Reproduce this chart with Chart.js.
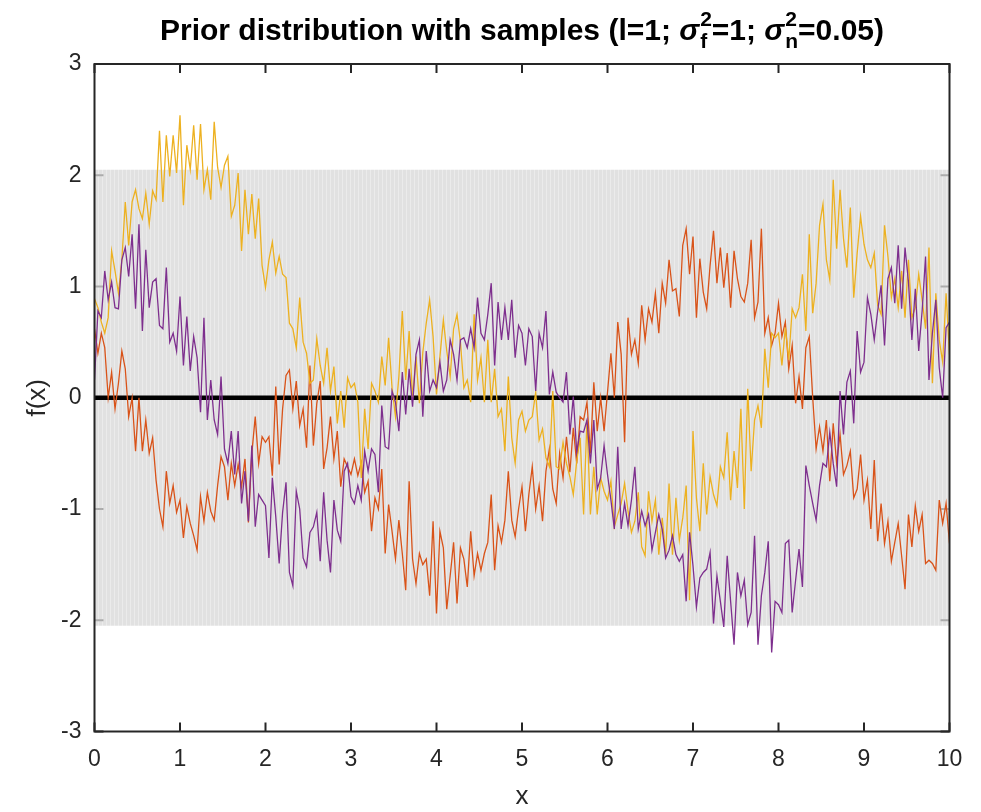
<!DOCTYPE html>
<html>
<head>
<meta charset="utf-8">
<script src="https://cdn.jsdelivr.net/npm/chart.js@4.4.1/dist/chart.umd.min.js"></script>
<style>
  html, body { margin: 0; padding: 0; background: #fff; }
  canvas { display: block; }
</style>
</head>
<body>
<canvas id="chart" width="981" height="812"></canvas>
<script>
// samples are on a regular grid, x = 0, 0.04, ... 10 (one row of values per unit of x)
const xStep = 0.04;

const sampleOrange = [
  0.62, 0.40, 0.58, 0.45, 0.00, 0.23, -0.10, 0.13, 0.42, 0.26, -0.17, 0.00, -0.48, 0.00, -0.48, -0.20, -0.50, -0.36, -0.74, -1.00, -1.16, -0.66, -0.95, -0.79, -1.03,
  -0.92, -1.26, -0.98, -1.13, -1.24, -1.37, -0.89, -1.11, -0.85, -1.02, -1.10, -0.79, -0.53, -0.62, -0.92, -0.59, -0.79, -0.60, -0.80, -0.55, -1.12, -0.50, -0.17, -0.59, -0.35,
  -0.40, -0.35, -0.70, 0.10, -0.60, -0.10, 0.20, 0.25, -0.10, 0.15, -0.25, -0.10, -0.45, 0.29, -0.43, -0.05, 0.15, -0.64, -0.45, -0.17, -0.55, -0.30, -0.80, -0.55, -0.62,
  -0.69, -0.55, -0.70, -0.58, -0.85, -0.75, -1.20, -0.90, -1.00, -0.64, -1.40, -0.96, -1.20, -1.45, -1.10, -1.40, -1.73, -0.75, -1.45, -1.67, -1.40, -1.50, -1.45, -1.78, -1.11,
  -1.94, -1.20, -1.35, -1.90, -1.60, -1.30, -1.85, -1.35, -1.45, -1.70, -1.20, -1.60, -1.40, -1.55, -1.40, -1.30, -0.87, -1.55, -1.15, -1.30, -1.10, -0.66, -1.10, -1.25, -1.00,
  -0.80, -1.20, -0.87, -0.62, -1.00, -0.79, -1.11, -0.66, -0.46, -0.82, -0.95, -0.50, -0.72, -0.35, -0.67, -0.27, -0.59, -0.17, -0.20, -0.04, -0.50, 0.14, -0.30, 0.00, -0.30,
  0.05, 0.40, 0.00, 0.68, 0.39, -0.40, 0.72, 0.39, 0.52, 0.31, 0.83, 0.52, 0.80, 0.68, 0.94, 0.58, 1.03, 0.85, 1.24, 0.96, 0.98, 0.73, 1.37, 1.52, 1.11,
  1.45, 0.72, 1.25, 0.95, 0.80, 1.19, 1.50, 1.03, 1.35, 0.99, 1.30, 0.81, 1.32, 1.07, 0.91, 0.86, 1.03, 1.42, 0.72, 0.86, 1.52, 0.58, 0.72, 0.47, 0.58,
  0.85, 0.55, 0.68, 0.26, 0.47, -0.05, 0.19, -0.10, 0.45, 0.55, 0.00, -0.46, -0.26, -0.48, -0.20, -0.75, -0.23, -0.59, -0.33, -0.69, -0.61, -0.48, -0.90, -0.82, -0.51,
  -0.92, -0.74, -1.18, -0.56, -1.29, -0.95, -1.31, -1.11, -1.47, -1.30, -1.13, -1.42, -1.72, -1.05, -1.34, -0.97, -1.20, -1.05, -1.49, -1.46, -1.49, -1.55, -0.92, -1.13, -0.95,
  -1.31
];

const sampleYellow = [
  0.89, 0.81, 0.68, 0.58, 0.72, 1.32, 1.14, 0.94, 1.24, 1.76, 1.37, 1.76, 1.87, 1.70, 1.61, 1.84, 1.56, 1.86, 1.78, 2.40, 1.76, 2.36, 1.99, 2.36, 2.02,
  2.54, 1.73, 2.27, 2.05, 2.45, 1.96, 2.46, 1.87, 2.05, 1.78, 2.48, 2.07, 1.89, 2.09, 2.17, 1.63, 1.73, 2.02, 1.32, 1.87, 1.47, 1.83, 1.43, 1.79, 1.19,
  0.99, 1.24, 1.40, 1.12, 1.27, 1.11, 1.08, 0.67, 0.62, 0.45, 0.90, 0.50, 0.40, 0.13, 0.16, 0.53, 0.29, 0.13, 0.45, 0.06, 0.28, -0.23, 0.06, -0.27, 0.18,
  0.09, 0.13, -0.04, -0.72, -0.10, -0.46, 0.13, 0.06, -0.04, 0.37, 0.11, 0.54, 0.09, -0.17, 0.19, 0.78, 0.16, 0.60, 0.00, 0.37, -0.05, 0.41, 0.67, 0.88, 0.55,
  0.03, 0.37, 0.70, 0.42, 0.19, 0.62, 0.75, 0.50, 0.09, 0.16, -0.04, 0.75, 0.16, 0.36, -0.04, 0.52, -0.04, 0.26, -0.17, -0.10, -0.48, 0.19, -0.36, -0.59, -0.20,
  -0.12, -0.30, -0.20, -0.17, 0.05, -0.38, -0.28, -0.54, -0.62, 0.06, -0.62, -0.64, -0.40, -0.59, -0.71, -0.87, -0.57, -0.36, -1.05, -0.20, -1.05, -0.62, -1.05, -0.72, -0.84,
  -0.92, -0.75, -1.16, -1.05, -0.95, -0.77, -1.02, -1.21, -1.11, -0.85, -1.34, -1.42, -0.84, -1.11, -0.92, -1.41, -1.08, -1.41, -0.77, -1.41, -0.90, -1.28, -1.08, -0.79, -1.82,
  -0.30, -0.90, -1.20, -0.59, -1.05, -0.71, -0.87, -0.97, -0.62, -0.72, -0.31, -0.92, -0.48, -0.81, -0.10, -1.00, 0.08, -0.66, -0.20, -0.07, -0.27, 0.44, 0.09, 0.58, 0.54,
  0.58, 0.29, 0.63, 0.34, 0.80, 0.72, 0.81, 1.11, 0.60, 1.47, 0.76, 1.03, 1.55, 1.74, 1.24, 1.06, 1.96, 1.34, 1.87, 1.43, 1.17, 1.71, 0.90, 1.30, 1.63,
  1.38, 1.24, 1.17, 1.30, 0.83, 0.75, 1.55, 1.27, 0.90, 1.07, 0.81, 1.14, 0.72, 1.24, 0.72, 0.81, 1.11, 0.88, 0.62, 1.35, 0.13, 0.94, 0.52, 0.32, 0.94,
  0.39
];

const samplePurple = [
  0.16, 0.78, 0.72, 1.14, 0.88, 1.04, 0.81, 0.80, 1.24, 1.35, 1.09, 1.47, 0.80, 1.56, 0.60, 1.33, 0.81, 1.04, 1.07, 0.65, 0.62, 1.17, 0.50, 0.58, 0.42,
  0.91, 0.29, 0.73, 0.24, 0.55, 0.36, -0.13, 0.72, -0.20, 0.16, -0.20, -0.33, 0.19, -0.46, -0.59, -0.30, -0.69, -0.30, -0.95, -0.66, -1.11, -0.43, -1.16, -0.87, -0.92,
  -0.97, -1.44, -0.72, -1.07, -1.49, -1.03, -0.76, -1.57, -1.69, -0.84, -1.00, -1.44, -1.52, -1.21, -1.16, -1.03, -1.47, -0.85, -1.28, -1.57, -0.92, -1.19, -1.29, -0.66, -0.59,
  -0.89, -0.95, -0.79, -0.92, -0.48, -0.66, -0.46, -0.51, -0.85, -0.07, -0.44, -0.46, 0.06, -0.04, -0.30, 0.23, -0.15, 0.26, -0.08, 0.39, 0.52, -0.17, 0.42, 0.06, 0.16,
  0.09, 0.32, 0.06, 0.16, 0.52, 0.39, 0.16, 0.52, 0.54, 0.45, 0.62, 0.45, 0.90, 0.58, 0.52, 0.75, 1.03, 0.29, 0.86, 0.52, 0.81, 0.52, 0.88, 0.36, 0.65,
  0.58, 0.29, 0.62, 0.55, 0.06, 0.58, 0.45, 0.78, 0.03, 0.23, 0.05, 0.00, -0.04, 0.23, -0.33, 0.01, -0.49, -0.30, -0.31, -0.20, -0.59, -0.20, -0.82, -0.72, -0.43,
  -0.69, -0.92, -1.18, -0.44, -1.18, -0.95, -1.15, -0.92, -0.62, -1.18, -1.02, -1.15, -1.05, -1.37, -1.21, -1.05, -1.18, -1.44, -1.37, -1.24, -1.41, -1.47, -1.41, -1.83, -1.21,
  -1.51, -1.88, -1.62, -1.57, -1.54, -1.39, -2.03, -1.60, -1.83, -2.06, -1.42, -1.83, -2.22, -1.57, -1.78, -1.64, -2.04, -1.93, -1.24, -2.22, -1.78, -1.57, -1.29, -2.29, -1.83,
  -1.86, -1.93, -1.31, -1.28, -1.93, -1.64, -1.36, -1.70, -0.61, -0.79, -0.95, -1.10, -0.79, -0.59, -0.62, -0.31, -0.59, -0.80, 0.06, -0.33, 0.14, 0.24, -0.23, 0.60, 0.23,
  0.32, 0.90, 0.75, 0.52, 0.78, 1.01, 0.47, 1.07, 1.17, 0.85, 1.37, 0.80, 1.35, 1.04, 0.52, 0.98, 0.42, 0.78, 1.27, 0.16, 0.58, 0.88, 0.27, 0.00, 0.63,
  0.68
];

// prior mean and the +/- band around it
const bandX = [0, 10];
const priorMean = [0, 0];
const bandUpper = [2.05, 2.05];
const bandLower = [-2.05, -2.05];

const xTicks = [0, 1, 2, 3, 4, 5, 6, 7, 8, 9, 10];
const yTicks = [-3, -2, -1, 0, 1, 2, 3];

const FONT = "'Liberation Sans', Arial, Helvetica, sans-serif";
const AXIS_COLOR = '#262626';

const onGrid = vals => vals.map((v, i) => ({ x: +(i * xStep).toFixed(2), y: v }));
const onBand = vals => vals.map((v, i) => ({ x: bandX[i], y: v }));

// light grey fill with faint vertical stripes, see-through enough to leave the ticks faint
function bandPattern() {
    const c = document.createElement('canvas');
    c.width = 4;
    c.height = 1;
    const g = c.getContext('2d');
    g.fillStyle = 'rgba(215, 215, 215, 0.76)';
    g.fillRect(0, 0, 4, 1);
    g.clearRect(2, 0, 1, 1);
    g.fillStyle = 'rgba(226, 226, 226, 0.7)';
    g.fillRect(2, 0, 1, 1);
    return g.createPattern(c, 'repeat');
}

// inward tick marks (under the band) and the box (over everything)
const axesBox = {
    id: 'axesBox',
    beforeDatasetsDraw(chart) {
        const { ctx, chartArea: a, scales: { x, y } } = chart;
        ctx.save();
        ctx.strokeStyle = AXIS_COLOR;
        ctx.lineWidth = 2;
        ctx.beginPath();
        xTicks.forEach(v => {
            const px = x.getPixelForValue(v);
            ctx.moveTo(px, a.bottom); ctx.lineTo(px, a.bottom - 9);
            ctx.moveTo(px, a.top); ctx.lineTo(px, a.top + 9);
        });
        yTicks.forEach(v => {
            const py = y.getPixelForValue(v);
            ctx.moveTo(a.left, py); ctx.lineTo(a.left + 9, py);
            ctx.moveTo(a.right, py); ctx.lineTo(a.right - 9, py);
        });
        ctx.stroke();
        ctx.restore();
    },
    afterDatasetsDraw(chart) {
        const { ctx, chartArea: a } = chart;
        ctx.save();
        ctx.strokeStyle = AXIS_COLOR;
        ctx.lineWidth = 2;
        ctx.strokeRect(a.left, a.top, a.right - a.left, a.bottom - a.top);
        ctx.restore();
    }
};

// title with stacked super/subscripts on sigma
const titleParts = [
    { text: 'Prior distribution with samples (l=1; ' },
    { text: 'σ', sup: '2', sub: 'f' },
    { text: '=1; ' },
    { text: 'σ', sup: '2', sub: 'n' },
    { text: '=0.05)' }
];

const titlePlugin = {
    id: 'texTitle',
    afterDraw(chart) {
        const { ctx, chartArea: a } = chart;
        const size = 30, small = 21;
        const main = `bold ${size}px ${FONT}`;
        const greek = `italic bold ${size}px ${FONT}`;
        const script = `bold ${small}px ${FONT}`;
        ctx.save();
        const widths = titleParts.map(p => {
            ctx.font = p.sup ? greek : main;
            let w = ctx.measureText(p.text).width;
            if (p.sup) {
                ctx.font = script;
                w += Math.max(ctx.measureText(p.sup).width, ctx.measureText(p.sub).width) + 1;
            }
            return w;
        });
        const total = widths.reduce((s, w) => s + w, 0);
        let cx = (a.left + a.right) / 2 - total / 2;
        const base = 40;
        ctx.fillStyle = '#000';
        ctx.textBaseline = 'alphabetic';
        ctx.textAlign = 'left';
        titleParts.forEach((p, i) => {
            ctx.font = p.sup ? greek : main;
            ctx.fillText(p.text, cx, base);
            if (p.sup) {
                const gw = ctx.measureText(p.text).width;
                ctx.font = script;
                ctx.fillText(p.sup, cx + gw + 1, base - 14);
                ctx.fillText(p.sub, cx + gw + 1, base + 8);
            }
            cx += widths[i];
        });
        ctx.restore();
    }
};

const ctx = document.getElementById('chart').getContext('2d');
new Chart(ctx, {
    type: 'line',
    data: {
        datasets: [
            { label: 'sample 3', data: onGrid(samplePurple), borderColor: '#7E2F8E', borderWidth: 1.3, pointRadius: 0, fill: false, order: 1 },
            { label: 'sample 2', data: onGrid(sampleYellow), borderColor: '#EDB120', borderWidth: 1.3, pointRadius: 0, fill: false, order: 2 },
            { label: 'sample 1', data: onGrid(sampleOrange), borderColor: '#D95319', borderWidth: 1.3, pointRadius: 0, fill: false, order: 3 },
            { label: 'mean', data: onBand(priorMean), borderColor: '#000000', borderWidth: 4.5, pointRadius: 0, fill: false, order: 4 },
            { label: 'band upper', data: onBand(bandUpper), borderColor: 'rgba(0,0,0,0)', borderWidth: 0, pointRadius: 0, backgroundColor: bandPattern(), fill: '+1', order: 5 },
            { label: 'band lower', data: onBand(bandLower), borderColor: 'rgba(0,0,0,0)', borderWidth: 0, pointRadius: 0, fill: false, order: 6 }
        ]
    },
    options: {
        responsive: false,
        animation: false,
        devicePixelRatio: 1,
        layout: { padding: { left: 0, right: 31.5, top: 64, bottom: 0 } },
        plugins: {
            legend: { display: false },
            tooltip: { enabled: false },
            title: { display: false }
        },
        scales: {
            x: {
                type: 'linear',
                min: 0,
                max: 10,
                afterBuildTicks: s => { s.ticks = xTicks.map(v => ({ value: v })); },
                afterFit: s => { s.height = 80.5; },
                grid: { display: false, drawTicks: false },
                border: { display: false },
                ticks: { color: AXIS_COLOR, font: { family: FONT, size: 23 }, padding: 14, maxRotation: 0, autoSkip: false },
                title: { display: true, text: 'x', color: AXIS_COLOR, font: { family: FONT, size: 26 }, padding: { top: 0, bottom: 0 } }
            },
            y: {
                type: 'linear',
                min: -3,
                max: 3,
                afterBuildTicks: s => { s.ticks = yTicks.map(v => ({ value: v })); },
                afterFit: s => { s.width = 94.5; },
                grid: { display: false, drawTicks: false },
                border: { display: false },
                ticks: { color: AXIS_COLOR, font: { family: FONT, size: 23 }, padding: 13, autoSkip: false },
                title: { display: true, text: 'f(x)', color: AXIS_COLOR, font: { family: FONT, size: 26 }, padding: { top: 22, bottom: 0 } }
            }
        }
    },
    plugins: [axesBox, titlePlugin]
});
</script>
</body>
</html>
